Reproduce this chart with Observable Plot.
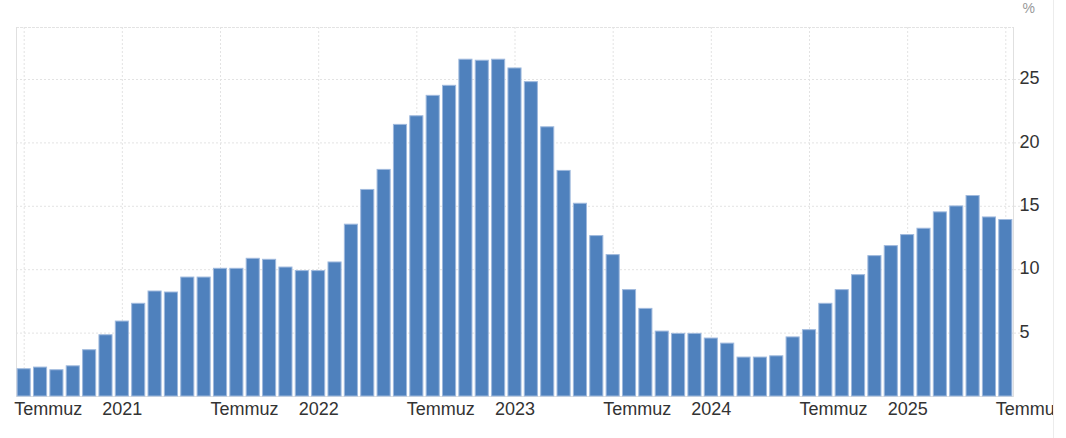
<!DOCTYPE html>
<html>
<head>
<meta charset="utf-8">
<script src="https://cdn.jsdelivr.net/npm/d3@7"></script>
<script src="https://cdn.jsdelivr.net/npm/@observablehq/plot@0.6"></script>
<style>
  html, body { margin: 0; padding: 0; background: #fff; }
  #chart { width: 1053px; height: 438px; overflow: hidden; border-right: 1px solid #ececec; }
  #chart svg { overflow: hidden; }
</style>
</head>
<body>
<div id="chart"></div>
<script>
// Monthly series, July 2020 – July 2025
const months = [
  "2020-07","2020-08","2020-09","2020-10","2020-11","2020-12",
  "2021-01","2021-02","2021-03","2021-04","2021-05","2021-06",
  "2021-07","2021-08","2021-09","2021-10","2021-11","2021-12",
  "2022-01","2022-02","2022-03","2022-04","2022-05","2022-06",
  "2022-07","2022-08","2022-09","2022-10","2022-11","2022-12",
  "2023-01","2023-02","2023-03","2023-04","2023-05","2023-06",
  "2023-07","2023-08","2023-09","2023-10","2023-11","2023-12",
  "2024-01","2024-02","2024-03","2024-04","2024-05","2024-06",
  "2024-07","2024-08","2024-09","2024-10","2024-11","2024-12",
  "2025-01","2025-02","2025-03","2025-04","2025-05","2025-06",
  "2025-07"
];
const values = [
  2.15, 2.28, 2.07, 2.38, 3.65, 4.83,
  5.91, 7.31, 8.28, 8.20, 9.38, 9.38,
  10.07, 10.07, 10.86, 10.78, 10.17, 9.89,
  9.89, 10.57, 13.55, 16.29, 17.87, 21.42,
  22.10, 23.71, 24.50, 26.56, 26.48, 26.56,
  25.87, 24.79, 21.23, 17.79, 15.20, 12.65,
  11.15, 8.39, 6.91, 5.12, 4.94, 4.94,
  4.57, 4.17, 3.07, 3.07, 3.17, 4.66,
  5.23, 7.31, 8.39, 9.57, 11.07, 11.86,
  12.73, 13.23, 14.52, 14.99, 15.81, 14.12,
  13.92
];
const yTicks = [5, 10, 15, 20, 25];
const yearTicks = ["2021-01", "2022-01", "2023-01", "2024-01", "2025-01"];
const julyTicks = ["2020-07", "2021-07", "2022-07", "2023-07", "2024-07", "2025-07"];
const julyLabel = "Temmuz";
const unitLabel = "%";

const data = months.map((m, i) => ({month: m, value: values[i]}));
const gridTicks = months.filter(m => m.endsWith("-01") || m.endsWith("-07"));

const gridColor = "#e3e3e3";
const lineColor = "#e0e0e0";
const textColor = "#333333";
const font = "'Liberation Sans', Arial, sans-serif";

const chart = Plot.plot({
  width: 1053,
  height: 438,
  marginLeft: 16,
  marginRight: 40,
  marginTop: 27,
  marginBottom: 42,
  style: {fontFamily: font, background: "#fff", color: textColor},
  x: {type: "band", domain: months, paddingInner: 0.2, paddingOuter: 0.07, round: false, label: null},
  y: {domain: [0, 29.1], label: null},
  marks: [
    Plot.gridY(yTicks, {stroke: gridColor, strokeOpacity: 1, strokeDasharray: "2,2"}),
    Plot.gridX(gridTicks, {stroke: gridColor, strokeOpacity: 1, strokeDasharray: "2,2"}),
    Plot.frame({anchor: "top", stroke: gridColor, strokeDasharray: "2,2"}),
    Plot.frame({anchor: "left", stroke: lineColor}),
    Plot.frame({anchor: "right", stroke: lineColor}),
    Plot.frame({anchor: "bottom", stroke: lineColor}),
    // grid extension beyond the right axis line
    Plot.axisY(yTicks, {anchor: "right", tickSize: 10, tickFormat: () => "", stroke: gridColor, strokeDasharray: "2,2", label: null}),
    Plot.barY(data, {x: "month", y: "value", fill: "#4f81bd", stroke: "#9fb9dd", strokeWidth: 1}),
    Plot.axisY(yTicks, {anchor: "right", tickSize: 0, tickPadding: 6, fontSize: 18, fill: textColor, label: null, dy: -1}),
    Plot.axisX(yearTicks, {anchor: "bottom", tickSize: 0, tickPadding: 6, fontSize: 18, fill: textColor, label: null, tickFormat: d => d.slice(0, 4)}),
    Plot.axisX(julyTicks, {anchor: "bottom", tickSize: 0, tickPadding: 6, fontSize: 18, fill: textColor, label: null, textAnchor: "start", dx: -10, tickFormat: () => julyLabel}),
    Plot.text([unitLabel], {frameAnchor: "top-right", dx: 9, dy: -15, textAnchor: "start", lineAnchor: "bottom", fontSize: 14, fill: "#999"})
  ]
});
document.getElementById("chart").appendChild(chart);
</script>
</body>
</html>
